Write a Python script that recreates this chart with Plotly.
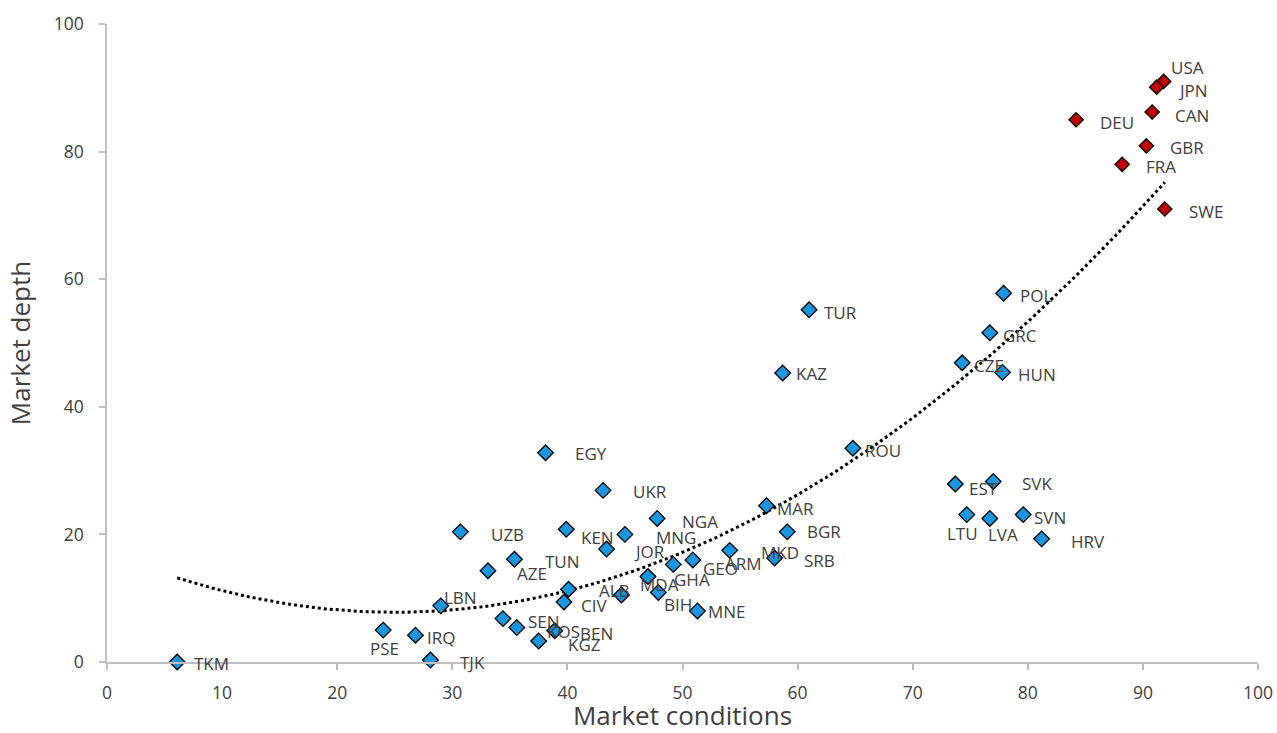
import numpy as np
import plotly.graph_objects as go

# Emerging / frontier economies
em_codes = ["TKM", "PSE", "IRQ", "TJK", "LBN", "UZB", "AZE", "TUN", "SEN", "KOS",
            "KGZ", "BEN", "CIV", "ALB", "EGY", "UKR", "KEN", "JOR", "MNG", "NGA",
            "MDA", "GHA", "BIH", "GEO", "ARM", "MNE", "MKD", "SRB", "BGR", "MAR",
            "TUR", "KAZ", "ROU", "CZE", "GRC", "POL", "HUN", "EST", "SVK", "LTU",
            "LVA", "SVN", "HRV"]
em_conditions = [6.1, 24.0, 26.8, 28.1, 29.0, 30.7, 33.1, 35.4, 34.4, 35.6,
                 37.5, 38.9, 39.7, 40.1, 38.1, 43.1, 39.9, 43.4, 45.0, 47.8,
                 44.7, 47.0, 47.9, 49.2, 50.9, 51.3, 54.1, 58.0, 59.1, 57.3,
                 61.0, 58.7, 64.8, 74.3, 76.7, 77.9, 77.8, 73.7, 77.0, 74.7,
                 76.7, 79.6, 81.2]
em_depth = [0.0, 5.0, 4.2, 0.3, 8.8, 20.4, 14.3, 16.1, 6.8, 5.4,
            3.3, 4.9, 9.4, 11.4, 32.8, 26.9, 20.8, 17.7, 20.0, 22.5,
            10.5, 13.4, 10.9, 15.3, 16.0, 8.0, 17.5, 16.3, 20.4, 24.5,
            55.2, 45.3, 33.5, 46.9, 51.6, 57.8, 45.4, 27.9, 28.3, 23.1,
            22.5, 23.1, 19.3]

# Advanced economies
adv_codes = ["USA", "JPN", "CAN", "DEU", "GBR", "FRA", "SWE"]
adv_conditions = [91.8, 91.2, 90.8, 84.2, 90.3, 88.2, 91.9]
adv_depth = [91.0, 90.1, 86.2, 85.0, 80.9, 78.0, 71.0]

# Label placement (pixel offset of each label from its marker)
label_offsets = {
    "TKM": (34, 0), "PSE": (1, 17), "IRQ": (26, 1), "TJK": (42, 1), "LBN": (20, -9),
    "UZB": (47, 2), "AZE": (44, 2), "TUN": (48, 1), "SEN": (41, 2), "KOS": (47, 3),
    "KGZ": (46, 3), "BEN": (42, 2), "CIV": (30, 2), "ALB": (46, 0), "EGY": (45, 0),
    "UKR": (47, 0), "KEN": (31, 7), "JOR": (43, 1), "MNG": (51, 2), "NGA": (43, 2),
    "MDA": (38, -12), "GHA": (44, 2), "BIH": (20, 11), "GEO": (47, 3), "ARM": (51, 3),
    "MNE": (30, 0), "MKD": (50, 1), "SRB": (45, 1), "BGR": (37, -1), "MAR": (29, 2),
    "TUR": (31, 2), "KAZ": (29, 0), "ROU": (30, 1), "CZE": (27, 2), "GRC": (30, 2),
    "POL": (32, 1), "HUN": (35, 1), "EST": (28, 3), "SVK": (44, 1), "LTU": (-4, 18),
    "LVA": (13, 15), "SVN": (27, 2), "HRV": (46, 2),
    "USA": (24, -15), "JPN": (36, 2), "CAN": (40, 2), "DEU": (41, 2), "GBR": (41, 1),
    "FRA": (39, 1), "SWE": (41, 1),
}

BLUE = "#1B95DD"
RED = "#C00000"
TEXT = "#404040"
AXIS = "#BFBFBF"
FONT = "Open Sans"

fig = go.Figure()

# Second-order polynomial trend through all economies
all_x = np.array(em_conditions + adv_conditions)
all_y = np.array(em_depth + adv_depth)
coef = np.polyfit(all_x, all_y, 2)
tx = np.linspace(all_x.min(), all_x.max(), 200)
fig.add_trace(go.Scatter(
    x=tx, y=np.polyval(coef, tx), mode="lines",
    line=dict(color="black", width=3, dash="dot"),
    hoverinfo="skip", showlegend=False,
))

fig.add_trace(go.Scatter(
    x=em_conditions, y=em_depth, mode="markers", text=em_codes,
    marker=dict(symbol="diamond", size=12, color=BLUE,
                line=dict(color="black", width=1.3)),
    showlegend=False, cliponaxis=False,
))
fig.add_trace(go.Scatter(
    x=adv_conditions, y=adv_depth, mode="markers", text=adv_codes,
    marker=dict(symbol="diamond", size=11, color=RED,
                line=dict(color="black", width=1.3)),
    showlegend=False, cliponaxis=False,
))

for codes, xs, ys in ((em_codes, em_conditions, em_depth),
                      (adv_codes, adv_conditions, adv_depth)):
    for c, x, y in zip(codes, xs, ys):
        dx, dy = label_offsets[c]
        fig.add_annotation(
            x=x, y=y, text=c, showarrow=False,
            xanchor="center", yanchor="middle",
            xshift=dx, yshift=-dy - 1,
            font=dict(family=FONT, size=17, color=TEXT),
        )

axis_common = dict(
    showgrid=False, zeroline=False, showline=True, linecolor=AXIS, linewidth=1.5,
    ticks="outside", tickcolor=AXIS, ticklen=6, tickwidth=1.5, automargin=False,
    tickfont=dict(family=FONT, size=17.5, color=TEXT),
)
fig.update_xaxes(range=[0, 100], dtick=10, ticklabelstandoff=8,
                 title=dict(text="Market conditions", standoff=6,
                            font=dict(family=FONT, size=26, color=TEXT)),
                 **axis_common)
fig.update_yaxes(range=[0, 100], dtick=20, ticklabelstandoff=12,
                 title=dict(text="Market depth", standoff=16,
                            font=dict(family=FONT, size=26, color=TEXT)),
                 **axis_common)

fig.update_layout(
    width=1277, height=733,
    margin=dict(l=107, r=19, t=24, b=71),
    paper_bgcolor="white", plot_bgcolor="white",
    font=dict(family=FONT, color=TEXT),
)

fig.write_html("out.html")
